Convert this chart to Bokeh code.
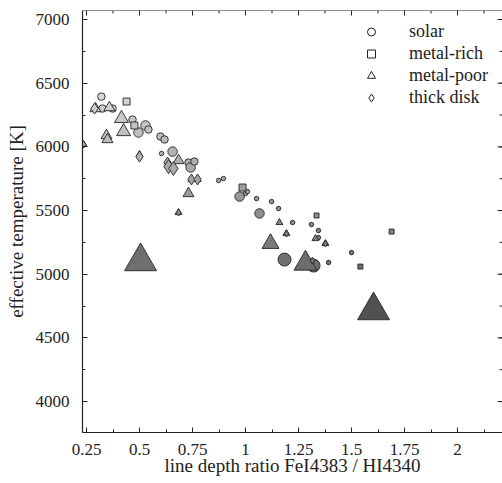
from bokeh.plotting import figure
from bokeh.models import (ColumnDataSource, FixedTicker, Legend, LegendItem, Range1d, Span)
from bokeh.transform import linear_cmap
from bokeh.embed import file_html
from bokeh.resources import INLINE

# ---------------- data ----------------
solar_x = [0.320, 0.325, 0.373, 0.467, 0.528, 0.495, 0.542, 0.599, 0.618, 0.604, 0.656,
           0.731, 0.741, 0.759, 0.873, 0.896, 0.972, 1.000, 1.009, 1.052, 1.123, 1.156,
           1.066, 1.222, 1.311, 1.344, 1.344, 1.184, 1.321, 1.392, 1.500]
solar_t = [6395, 6301, 6301, 6215, 6168, 6113, 6136, 6081, 6058, 5948, 5963,
           5877, 5838, 5885, 5736, 5751, 5610, 5634, 5649, 5594, 5571, 5516,
           5477, 5406, 5390, 5343, 5288, 5115, 5068, 5092, 5170]
solar_w = [2, 2, 2, 2, 3, 3, 2, 2, 2, 1, 3,
           2, 3, 2, 1, 1, 3, 1, 1, 1, 1, 1,
           3, 1, 1, 1, 1, 4, 4, 1, 1]

rich_x = [0.439, 0.476, 0.986, 1.335, 1.542, 1.689]
rich_t = [6356, 6168, 5681, 5461, 5060, 5335]
rich_w = [2, 2, 2, 1, 1, 1]

poor_x = [0.292, 0.358, 0.415, 0.425, 0.344, 0.349, 0.236, 0.500, 0.684, 0.731, 0.684,
          1.160, 1.193, 1.118, 1.283, 1.330, 0.505, 1.604, 1.377, 0.745, 0.774]
poor_t = [6301, 6309, 6223, 6120, 6089, 6058, 6018, 5940, 5893, 5634, 5484,
          5406, 5319, 5241, 5084, 5280, 5100, 4715, 5241, 5744, 5744]
poor_w = [2, 2, 3, 3, 2, 2, 1, 1, 2, 2, 1,
          1, 1, 4, 5, 1, 6, 6, 1, 1, 1]

thick_x = [0.288, 0.500, 0.632, 0.637, 0.660, 0.745, 0.774, 0.684, 1.193, 1.377, 1.316, 0.236]
thick_t = [6301, 5924, 5877, 5845, 5830, 5744, 5744, 5484, 5319, 5241, 5107, 6018]
thick_w = [2, 2, 2, 3, 3, 2, 2, 1, 1, 1, 1, 1]

x_ticks = [0.25, 0.5, 0.75, 1.0, 1.25, 1.5, 1.75, 2.0]
x_tick_labels = ["0.25", "0.5", "0.75", "1", "1.25", "1.5", "1.75", "2"]
x_minor = [0.125 + 0.125 * i for i in range(18)]
y_ticks = [4000, 4500, 5000, 5500, 6000, 6500, 7000]
y_minor = [3750 + 250 * i for i in range(14)]

legend_labels = ["solar", "metal-rich", "metal-poor", "thick disk"]

# ---------------- styles / layout ----------------
FONT = "Liberation Serif"
INK = "#222222"
W, H = 502, 483
BL, BR, BT, BB = 82, 0, 10, 51
X0, X1 = 0.2311, 2.2122
Y0, Y1 = 3757, 7071
FW, FH = W - BL - BR, H - BT - BB
XPP = (X1 - X0) / FW   # data units per pixel
YPP = (Y1 - Y0) / FH

SIZE_PX = {
    "circle": {1: 4.5, 2: 7.5, 3: 9.5, 4: 13},
    "square": {1: 5, 2: 7},
    "triangle": {1: 7, 2: 11, 3: 14, 4: 17, 5: 23, 6: 32},
    "diamond": {1: 7, 2: 11, 3: 14},
}
grays = ["#%02x%02x%02x" % (v, v, v) for v in
         [int(0x50 + (0xd6 - 0x50) * i / 255) for i in range(256)]]
cmap = linear_cmap("t", grays, 4700, 6400)

p = figure(width=W, height=H, output_backend="svg", toolbar_location=None,
           x_range=Range1d(X0, X1), y_range=Range1d(Y0, Y1),
           min_border_left=BL, min_border_right=BR, min_border_top=BT, min_border_bottom=BB)
p.outline_line_color = None
p.xgrid.visible = False
p.ygrid.visible = False
p.background_fill_color = "white"

series = [
    ("circle", solar_x, solar_t, solar_w),
    ("square", rich_x, rich_t, rich_w),
    ("triangle", poor_x, poor_t, poor_w),
    ("diamond", thick_x, thick_t, thick_w),
]
for marker, xs, ts, ws in series:
    src = ColumnDataSource(dict(x=xs, t=ts, sz=[SIZE_PX[marker][w] for w in ws]))
    p.scatter("x", "t", size="sz", marker=marker, source=src,
              fill_color=cmap, line_color="#262626", line_width=0.9)

# top frame line and inward ticks on top / right
p.add_layout(Span(location=Y1, dimension="width", line_color=INK, line_width=1.2))
p.segment(x0=x_ticks, y0=[Y1] * len(x_ticks), x1=x_ticks, y1=[Y1 - 5 * YPP] * len(x_ticks),
          line_color=INK, line_width=1)
p.segment(x0=x_minor, y0=[Y1] * len(x_minor), x1=x_minor, y1=[Y1 - 3 * YPP] * len(x_minor),
          line_color=INK, line_width=1)
p.segment(x0=[X1] * len(y_ticks), y0=y_ticks, x1=[X1 - 5 * XPP] * len(y_ticks), y1=y_ticks,
          line_color=INK, line_width=1)
p.segment(x0=[X1] * len(y_minor), y0=y_minor, x1=[X1 - 3 * XPP] * len(y_minor), y1=y_minor,
          line_color=INK, line_width=1)

# legend with open markers
items = []
for marker, lab in zip(["circle", "square", "triangle", "diamond"], legend_labels):
    r = p.scatter([float("nan")], [float("nan")], marker=marker, size=8,
                  fill_color="white", line_color=INK, line_width=1)
    items.append(LegendItem(label=lab, renderers=[r]))
leg = Legend(items=items, location=(279, 324), orientation="vertical",
             glyph_width=20, glyph_height=21, label_height=21, label_standoff=28,
             spacing=1, padding=0, margin=0, border_line_color=None,
             background_fill_alpha=0, label_text_font=FONT,
             label_text_font_size="18px", label_text_color=INK)
p.add_layout(leg)

xt = FixedTicker(ticks=x_ticks, minor_ticks=x_minor)
yt = FixedTicker(ticks=y_ticks, minor_ticks=y_minor)

def style_axis(ax):
    ax.major_tick_in = 5
    ax.major_tick_out = 0
    ax.minor_tick_in = 3
    ax.minor_tick_out = 0
    ax.axis_line_color = INK
    ax.axis_line_width = 1.2
    ax.major_tick_line_color = INK
    ax.minor_tick_line_color = INK
    ax.major_label_text_font = FONT
    ax.major_label_text_font_size = "17px"
    ax.major_label_text_color = INK
    ax.axis_label_text_font = FONT
    ax.axis_label_text_font_size = "19px"
    ax.axis_label_text_font_style = "normal"
    ax.axis_label_text_color = INK

p.xaxis.ticker = xt
p.yaxis.ticker = yt
p.xaxis.major_label_overrides = {t: l for t, l in zip(x_ticks, x_tick_labels)}
style_axis(p.xaxis[0])
style_axis(p.yaxis[0])
p.xaxis.axis_label = "line depth ratio FeI4383 / HI4340"
p.yaxis.axis_label = "effective temperature [K]"
p.xaxis.major_label_standoff = 11
p.yaxis.major_label_standoff = 13
p.xaxis.axis_label_standoff = -3
p.yaxis.axis_label_standoff = 6

open("out.html", "w").write(file_html(p, INLINE))
